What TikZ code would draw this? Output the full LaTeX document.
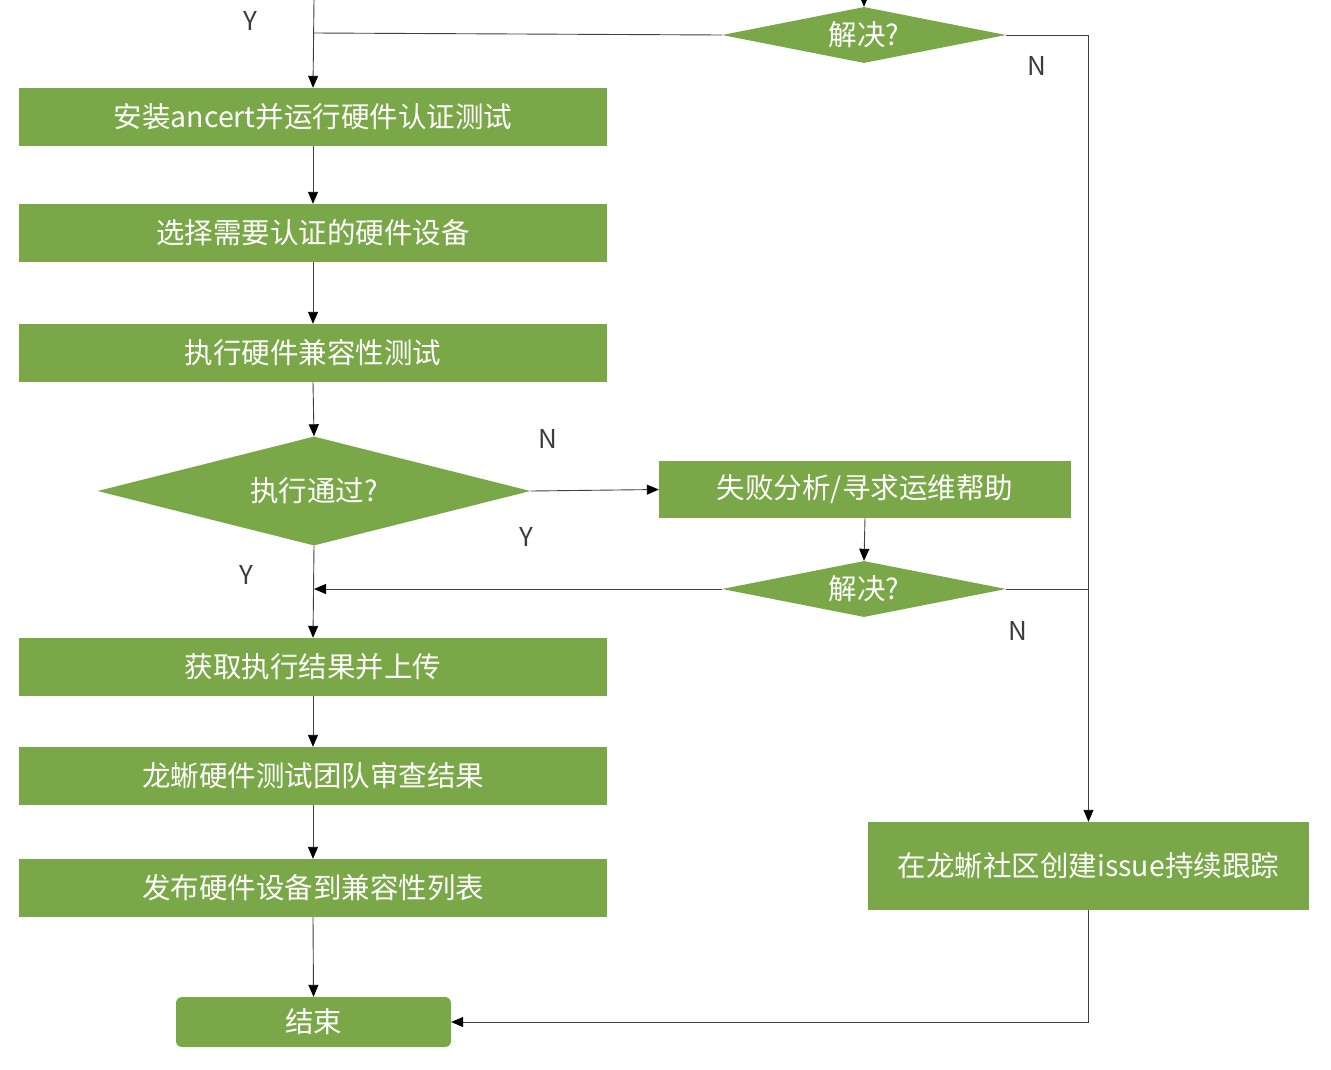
\documentclass[tikz,border=0pt]{standalone}
\usepackage{fontspec}
\newfontfamily\cjk{Noto Sans CJK SC}
\usetikzlibrary{shapes.geometric,arrows.meta}
\definecolor{lgreen}{RGB}{122,167,71}
\definecolor{lblgray}{RGB}{60,60,60}
\begin{document}
\begin{tikzpicture}[x=1pt,y=-1pt,
  boxfont/.style={font=\cjk\fontsize{28.5}{32}\selectfont},
  procbox/.style={rectangle,fill=lgreen,text=white,boxfont,minimum width=588pt,minimum height=58pt,inner sep=0pt},
  decbox/.style={diamond,fill=lgreen,text=white,boxfont,inner sep=0pt},
  yn/.style={text=lblgray,font=\cjk\fontsize{26}{30}\selectfont},
  conn/.style={draw=black!75,line width=0.9pt},
  arr/.style={conn,-{Triangle[length=12pt,width=10pt,fill=black,color=black]}}]
\useasboundingbox (0,0) rectangle (1331,1069);
% main column
\node[procbox] (b1) at (313,117) {安装ancert并运行硬件认证测试};
\node[procbox] (b2) at (313,233) {选择需要认证的硬件设备};
\node[procbox] (b3) at (313,353) {执行硬件兼容性测试};
\node[decbox,aspect=4,minimum width=433pt,minimum height=109pt] (d1) at (314,491) {执行通过?};
\node[procbox] (b4) at (313,667) {获取执行结果并上传};
\node[procbox] (b5) at (313,776) {龙蜥硬件测试团队审查结果};
\node[procbox] (b6) at (313,888) {发布硬件设备到兼容性列表};
\node[rectangle,rounded corners=6pt,fill=lgreen,text=white,boxfont,minimum width=275pt,minimum height=50pt,inner sep=0pt] (end) at (313.5,1022) {结束};
% right side
\node[decbox,aspect=5,minimum width=284pt,minimum height=56pt] (dtop) at (864,35) {解决?};
\node[rectangle,fill=lgreen,text=white,boxfont,minimum width=412pt,minimum height=57pt,inner sep=0pt] (fail) at (865,489.5) {失败分析/寻求运维帮助};
\node[decbox,aspect=5,minimum width=284pt,minimum height=56pt] (d2) at (864,589) {解决?};
\node[rectangle,fill=lgreen,text=white,boxfont,minimum width=441pt,minimum height=88pt,inner sep=0pt] (issue) at (1088.5,866) {在龙蜥社区创建issue持续跟踪};
% coordinates of free ends
\coordinate (inleft) at (314,0);
\coordinate (intop) at (864,0);
\coordinate (joinY) at (314,33);
% connectors
\draw[arr] (inleft) -- (b1.north);
\draw[conn] (dtop.west) -- (joinY);
\draw[arr] (intop) -- (dtop.north);
\draw[arr] (dtop.east) -| (issue.north);
\draw[arr] (b1.south) -- (b2.north);
\draw[arr] (b2.south) -- (b3.north);
\draw[arr] (b3.south) -- (d1.north);
\draw[arr] (d1.east) -- (fail.west);
\draw[arr] (fail.south) -- (d2.north);
\draw[arr] (d2.west) -- (d2.west -| d1.south);
\draw[conn] (d2.east) -- (d2.east -| issue.north);
\draw[arr] (d1.south) -- (b4.north);
\draw[arr] (b4.south) -- (b5.north);
\draw[arr] (b5.south) -- (b6.north);
\draw[arr] (b6.south) -- (end.north);
\draw[arr] (issue.south) |- (end.east);
% labels
\node[yn] (lY1) at (250,21) {Y};
\node[yn] (lN1) at (1037,66) {N};
\node[yn] (lN2) at (548,439) {N};
\node[yn] (lY2) at (526,537) {Y};
\node[yn] (lY3) at (246,575) {Y};
\node[yn] (lN3) at (1018,631) {N};
\end{tikzpicture}
\end{document}
